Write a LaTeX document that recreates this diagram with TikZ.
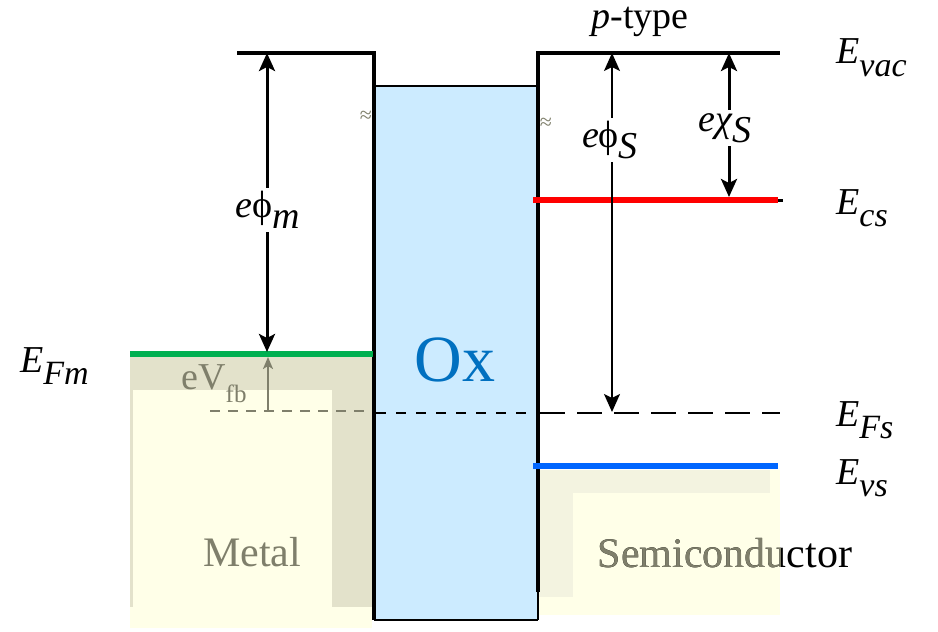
\documentclass[tikz,border=0pt]{standalone}
\usepackage{fontspec}
\setmainfont{Liberation Serif}
\usetikzlibrary{arrows.meta}
\definecolor{metalY}{HTML}{FFFFE8}
\definecolor{metalD}{HTML}{E3E2CB}
\definecolor{semiY}{HTML}{FFFFE8}
\definecolor{semiD}{HTML}{F3F3E0}
\definecolor{oxblue}{HTML}{CCEBFF}
\definecolor{efgreen}{HTML}{00B050}
\definecolor{ecred}{HTML}{FF0000}
\definecolor{evblue}{HTML}{0066FF}
\definecolor{labgray}{HTML}{7F7F6B}
\definecolor{oxtext}{HTML}{0070C0}
\newcommand\lbl[2]{\textit{#1}\raisebox{-0.33em}{\fontsize{34}{36}\selectfont\textit{#2}}}
\begin{document}
\begin{tikzpicture}[x=1pt,y=-1pt,
  big/.style={font=\fontsize{38}{40}\selectfont, inner sep=3pt},
  thickline/.style={line width=4pt, line join=miter},
  level/.style={line width=6pt},
  arr/.style={-{Stealth[length=18pt,width=16pt,inset=4pt]}},
  darr/.style={line width=3pt, arr},
  tarr/.style={line width=1.5pt, arr},
  gdash/.style={labgray, line width=2.5pt, dash pattern=on 10pt off 8pt},
  kdash/.style={black, line width=2.5pt, dash pattern=on 10pt off 10pt},
  rdash/.style={black, line width=2.5pt, dash pattern=on 25pt off 12pt},
  bgtext/.style={font=\fontsize{42}{44}\selectfont, inner sep=0pt},
  brk/.style={labgray, font=\fontsize{22}{22}\selectfont, inner sep=0pt}
]
\useasboundingbox (0,0) rectangle (938,632);
% metal background
\fill[metalY] (130,355) rectangle (372,628);
\fill[metalD] (130,355) rectangle (372,607);
\fill[metalY] (133,390) rectangle (332,628);
% semiconductor background
\fill[semiY] (537,470) rectangle (780,615);
\fill[semiD] (537,470) rectangle (770,597);
\fill[semiY] (573,493) rectangle (780,615);
% oxide
\fill[oxblue] (374,86) rectangle (538,620);
\draw[line width=1.5pt] (374,86) -- (538,86);
\draw[line width=1.5pt] (374,620) -- (538,620);

% text in backgrounds
\node[bgtext, labgray] (metal) at (252,552) {Metal};
\node[bgtext, black] (semi) at (725,553) {Semiconductor};
\begin{scope}
  \clip (537,470) rectangle (780,615);
  \node[bgtext, labgray] (semig) at (725,553) {Semiconductor};
\end{scope}
\node[font=\fontsize{66}{68}\selectfont, text=oxtext, inner sep=0pt] (ox) at (455,360) {Ox};

% Fermi levels (dashed)
\coordinate (efmL) at (210,411);
\coordinate (efmR) at (372,411);
\coordinate (efoL) at (376,413);
\coordinate (efoR) at (536,413);
\coordinate (efsL) at (540,413);
\coordinate (efsR) at (780,413);
\draw[gdash] (efmL) -- (efmR);
\draw[kdash] (efoL) -- (efoR);
\draw[rdash] (efsL) -- (efsR);

% vacuum levels and oxide walls
\coordinate (vmL) at (237,53);
\coordinate (oxTL) at (374,53);
\coordinate (oxBL) at (374,620);
\coordinate (vsR) at (780,53);
\coordinate (oxTR) at (538,53);
\coordinate (oxBR) at (538,592);
\coordinate (oxBR2) at (538,620);
\draw[thickline] (vmL) -- (oxTL) -- (oxBL);
\draw[thickline] (oxBR) -- (oxTR) -- (vsR);
\draw[line width=1.5pt] (oxBR) -- (oxBR2);

% band levels
\coordinate (efgL) at (130,354);
\coordinate (efgR) at (373,354);
\draw[level, efgreen, line width=5.5pt] (efgL) -- (efgR);
\coordinate (ecL) at (533,200);
\coordinate (ecR) at (778,200);
\coordinate (ecT) at (783,200);
\draw[level, ecred] (ecL) -- (ecR);
\draw[line width=3pt] (ecR) -- (ecT);
\coordinate (evL) at (533,466);
\coordinate (evR) at (778,466);
\draw[level, evblue] (evL) -- (evR);

% small break marks
\node[brk] (brkL) at (366,117) {≈};
\node[brk] (brkR) at (546,124) {≈};

% e phi_m
\node[big] (phim) at (268,210) {\textit{e}ϕ\raisebox{-0.3em}{\textit{m}}};
\coordinate (phimT) at (267,53);
\coordinate (phimB) at (267,352);
\draw[darr] (phim.north -| phimT) -- (phimT);
\draw[darr] (phim.south -| phimB) -- (phimB);

% e V_fb
\node[labgray, font=\fontsize{38}{40}\selectfont, inner sep=0pt] (vfb) at (214,384) {eV\raisebox{-0.35em}{\fontsize{25}{27}\selectfont fb}};
\coordinate (vfbB) at (268,411);
\coordinate (vfbT) at (268,357);
\draw[labgray, line width=2pt, -{Stealth[length=12pt,width=10pt,inset=3pt]}] (vfbB) -- (vfbT);

% e phi_S
\node[big] (phis) at (610,140) {\textit{e}ϕ\raisebox{-0.3em}{\textit{S}}};
\coordinate (phisT) at (612,53);
\coordinate (phisB) at (612,412);
\draw[tarr] (phis.north -| phisT) -- (phisT);
\draw[tarr] (phis.south -| phisB) -- (phisB);

% e chi_S
\node[big] (chis) at (725,128) {\textit{e}\textit{χ}\raisebox{-0.3em}{\textit{S}}};
\coordinate (chisT) at (729,53);
\coordinate (chisB) at (729,197);
\draw[darr] (chis.north -| chisT) -- (chisT);
\draw[darr] (chis.south -| chisB) -- (chisB);

% labels
\node[big] (ptype) at (640,22) {\textit{p}-type};
\node[big, anchor=west] (evac) at (833,58) {\lbl{E}{vac}};
\node[big, anchor=west] (ecs) at (833,208) {\lbl{E}{cs}};
\node[big, anchor=west] (efs) at (833,420) {\lbl{E}{Fs}};
\node[big, anchor=west] (evs) at (833,478) {\lbl{E}{vs}};
\node[big, anchor=west] (efm) at (17,366) {\lbl{E}{Fm}};
\end{tikzpicture}
\end{document}
